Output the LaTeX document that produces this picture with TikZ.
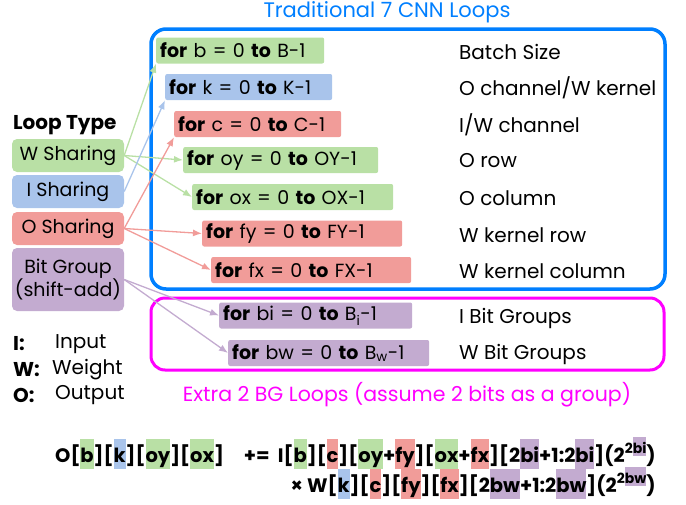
\documentclass[tikz,border=0pt]{standalone}
\usepackage{fontspec}
\setmainfont{Poppins}
\usetikzlibrary{arrows.meta}
\definecolor{gfill}{RGB}{185,224,165}
\definecolor{bfill}{RGB}{169,196,235}
\definecolor{rfill}{RGB}{241,156,153}
\definecolor{pfill}{RGB}{195,171,208}
\definecolor{frameblue}{RGB}{0,127,255}
\definecolor{framemag}{RGB}{255,0,255}
\newcommand\hlx[2]{{\setlength{\fboxsep}{0pt}\colorbox{#1}{\rule[-7pt]{0pt}{30pt}#2}}}
\newcommand\hls[2]{{\setlength{\fboxsep}{0pt}\colorbox{#1}{\rule[-3pt]{0pt}{19pt}#2}}}
\newcommand\supx[1]{\raisebox{9pt}{\fontsize{14}{14}\selectfont 2#1}}
\begin{document}
\begin{tikzpicture}[x=1pt,y=-1pt,
  base/.style={font=\fontsize{20}{24}\selectfont},
  loopbox/.style={font=\fontsize{19}{22}\selectfont, anchor=west, rounded corners=2pt, inner xsep=4pt, inner ysep=0pt, minimum height=26pt, align=left},
  lab/.style={base, anchor=west, inner sep=0pt},
  typebox/.style={font=\fontsize{19}{23}\selectfont, rounded corners=5pt, minimum width=112pt, inner sep=0pt, align=center},
  conn/.style={line width=1.3pt, -{Latex[length=9pt,width=7pt]}},
  eq/.style={inner sep=0pt, font=\bfseries\fontsize{19.5}{22}\selectfont}
  ]
\useasboundingbox (0,0) rectangle (686,504);
% frames
\draw[frameblue, line width=3.5pt, rounded corners=15pt] (151,29) rectangle (665,289);
\draw[framemag, line width=3pt, rounded corners=14pt] (151,298) rectangle (664,370);
\node[base, font=\fontsize{21}{24}\selectfont, text=frameblue] (title) at (387,12) {Traditional 7 CNN Loops};
\node[base, font=\fontsize{20.5}{24}\selectfont, text=framemag] (extra) at (407,395) {Extra 2 BG Loops (assume 2 bits as a group)};
% loops
\node[loopbox, fill=gfill, text width=160pt] (lb) at (156,50.5) {\mbox{\textbf{for} b = 0 \textbf{to} B-1}};
\node[loopbox, fill=bfill, text width=159pt] (lk) at (165,87) {\mbox{\textbf{for} k = 0 \textbf{to} K-1}};
\node[loopbox, fill=rfill, text width=159pt] (lc) at (174,124) {\mbox{\textbf{for} c = 0 \textbf{to} C-1}};
\node[loopbox, fill=gfill, text width=187pt] (loy) at (183,160) {\mbox{\textbf{for} oy = 0 \textbf{to} OY-1}};
\node[loopbox, fill=gfill, text width=193pt] (lox) at (192,197) {\mbox{\textbf{for} ox = 0 \textbf{to} OX-1}};
\node[loopbox, fill=rfill, text width=192pt] (lfy) at (202,233.5) {\mbox{\textbf{for} fy = 0 \textbf{to} FY-1}};
\node[loopbox, fill=rfill, text width=192pt] (lfx) at (211,270) {\mbox{\textbf{for} fx = 0 \textbf{to} FX-1}};
\node[loopbox, fill=pfill, text width=185pt] (lbi) at (219,315.5) {\mbox{\textbf{for} bi = 0 \textbf{to} B\textsubscript{i}-1}};
\node[loopbox, fill=pfill, text width=193pt] (lbw) at (228,353) {\mbox{\textbf{for} bw = 0 \textbf{to} B\textsubscript{w}-1}};
% descriptions
\node[lab] (d1) at (459,52) {Batch Size};
\node[lab] (d2) at (459,88) {O channel/W kernel};
\node[lab] (d3) at (459,125) {I/W channel};
\node[lab] (d4) at (459,161) {O row};
\node[lab] (d5) at (459,198) {O column};
\node[lab] (d6) at (459,235) {W kernel row};
\node[lab] (d7) at (459,271) {W kernel column};
\node[lab] (d8) at (459,318) {I Bit Groups};
\node[lab] (d9) at (459,354) {W Bit Groups};
% loop types
\node[lab] (lt) at (13,125) {\textbf{Loop Type}};
\node[typebox, fill=gfill, minimum height=33pt] (wsh) at (68,155.5) {W Sharing};
\node[typebox, fill=bfill, minimum height=33pt] (ish) at (68,191.5) {I Sharing};
\node[typebox, fill=rfill, minimum height=33pt] (osh) at (68,228.5) {O Sharing};
\node[typebox, fill=pfill, minimum height=63pt] (bg) at (68,279.5) {Bit Group\\(shift-add)};
% legend
\node[lab] (li) at (13,344) {\textbf{I:}};
\node[lab] (lin) at (55,344) {Input};
\node[lab] (lw) at (13,370) {\textbf{W:}};
\node[lab] (lwn) at (52,370) {Weight};
\node[lab] (lo) at (13,395) {\textbf{O:}};
\node[lab] (lon) at (55,395) {Output};
% connectors
\draw[conn, gfill] (wsh.east) -- (lb.south west);
\draw[conn, gfill] (wsh.east) -- (loy.west);
\draw[conn, gfill] (wsh.east) -- (lox.west);
\draw[conn, bfill] (ish.east) -- (lk.south west);
\draw[conn, rfill] (osh.east) -- (lc.south west);
\draw[conn, rfill] (osh.east) -- (lfy.west);
\draw[conn, rfill] (osh.east) -- (lfx.west);
\draw[conn, pfill] (bg.east) -- (lbi.west);
\draw[conn, pfill] (bg.east) -- (lbw.west);
% equation
\node[eq, anchor=base west] (eqL) at (55,462) {O[\hlx{gfill}{b}][\hlx{bfill}{k}][\hlx{gfill}{oy}][\hlx{gfill}{ox}]};
\node[eq, anchor=base east] (eqR) at (656,462) {+=\ \ I[\hlx{gfill}{b}][\hlx{rfill}{c}][\hlx{gfill}{oy}+\hlx{rfill}{fy}][\hlx{gfill}{ox}+\hlx{rfill}{fx}][2\hlx{pfill}{bi}+1:2\hlx{pfill}{bi}](2\supx{\hls{pfill}{bi}})};
\node[eq, anchor=base east] (eq2) at (656,492) {× W[\hlx{bfill}{k}][\hlx{rfill}{c}][\hlx{rfill}{fy}][\hlx{rfill}{fx}][2\hlx{pfill}{bw}+1:2\hlx{pfill}{bw}](2\supx{\hls{pfill}{bw}})};
\end{tikzpicture}
\end{document}
